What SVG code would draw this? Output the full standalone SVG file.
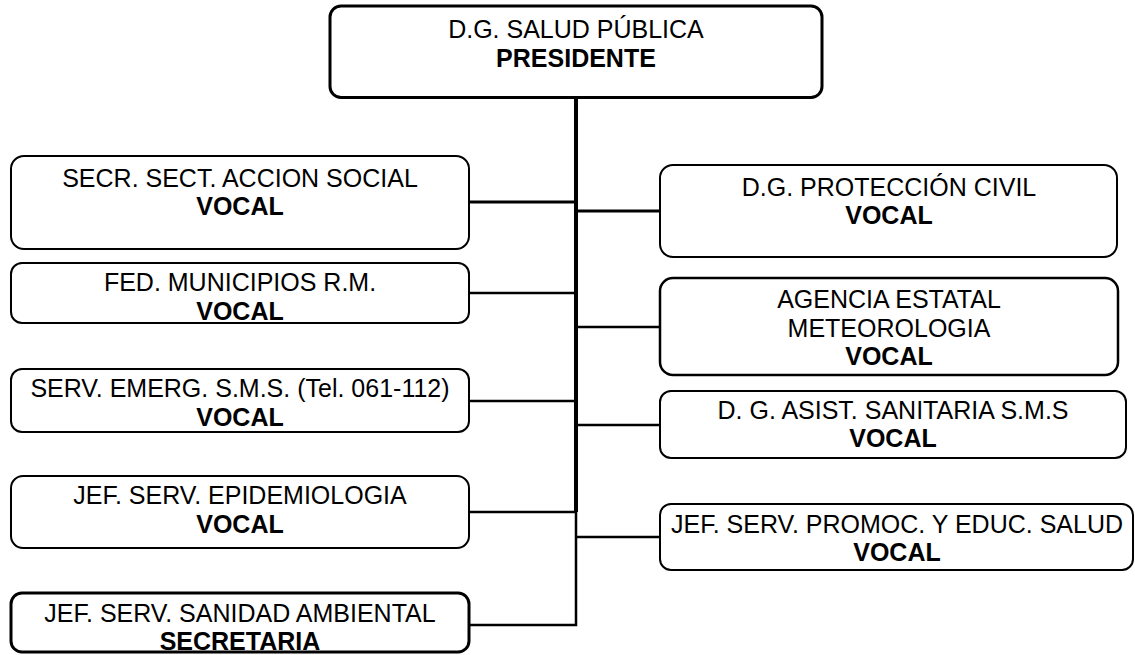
<svg xmlns="http://www.w3.org/2000/svg" width="1135" height="655" viewBox="0 0 1135 655">
<style>
.box{fill:#fff;stroke:#000;stroke-width:2}
.thick{stroke-width:3}
.mid{stroke-width:2.5}
text{font-family:"Liberation Sans",Arial,sans-serif;font-size:25px;fill:#000;text-anchor:middle}
.b{font-weight:bold}
.con{stroke:#000;fill:none}
</style>
<rect width="1135" height="655" fill="#fff"/>
<g id="connectors">
<line class="con" x1="576" y1="97" x2="576" y2="512" stroke-width="4"/>
<polyline class="con" points="576,512 576,625 469,625" stroke-width="2.5"/>
<line class="con" x1="469" y1="202" x2="576" y2="202" stroke-width="3"/>
<line class="con" x1="469" y1="293" x2="576" y2="293" stroke-width="2.5"/>
<line class="con" x1="469" y1="401" x2="576" y2="401" stroke-width="2.5"/>
<line class="con" x1="469" y1="512" x2="576" y2="512" stroke-width="2.5"/>
<line class="con" x1="576" y1="211" x2="660" y2="211" stroke-width="3"/>
<line class="con" x1="576" y1="327" x2="660" y2="327" stroke-width="2.5"/>
<line class="con" x1="576" y1="425" x2="660" y2="425" stroke-width="2.5"/>
<line class="con" x1="576" y1="537" x2="660" y2="537" stroke-width="2.5"/>
</g>
<g id="n-presidente">
<rect class="box thick" x="330" y="6" width="492" height="91.5" rx="11"/>
<text x="576" y="37.5">D.G. SALUD PÚBLICA</text>
<text class="b" x="576" y="66.5">PRESIDENTE</text>
</g>
<g id="n-secr">
<rect class="box" x="11" y="156" width="458" height="93" rx="13"/>
<text x="240" y="186.5">SECR. SECT. ACCION SOCIAL</text>
<text class="b" x="240" y="215">VOCAL</text>
</g>
<g id="n-fed">
<rect class="box" x="11" y="263" width="458" height="60" rx="11"/>
<text x="240" y="291">FED. MUNICIPIOS R.M.</text>
<text class="b" x="240" y="319.5">VOCAL</text>
</g>
<g id="n-serv">
<rect class="box" x="11" y="369" width="458" height="63" rx="11"/>
<text x="240" y="397">SERV. EMERG. S.M.S. (Tel. 061-112)</text>
<text class="b" x="240" y="425.5">VOCAL</text>
</g>
<g id="n-epi">
<rect class="box" x="11" y="476" width="458" height="72" rx="12"/>
<text x="240" y="504">JEF. SERV. EPIDEMIOLOGIA</text>
<text class="b" x="240" y="532.5">VOCAL</text>
</g>
<g id="n-sanidad">
<rect class="box thick" x="11" y="593" width="458" height="59" rx="11"/>
<text x="240" y="622">JEF. SERV. SANIDAD AMBIENTAL</text>
<text class="b" x="240" y="650">SECRETARIA</text>
</g>
<g id="n-proteccion">
<rect class="box" x="660" y="165" width="457" height="92" rx="13"/>
<text x="889" y="195.5">D.G. PROTECCIÓN CIVIL</text>
<text class="b" x="889" y="224">VOCAL</text>
</g>
<g id="n-agencia">
<rect class="box mid" x="660" y="278" width="458" height="97" rx="13"/>
<text x="889" y="308">AGENCIA ESTATAL</text>
<text x="889" y="336.5">METEOROLOGIA</text>
<text class="b" x="889" y="365">VOCAL</text>
</g>
<g id="n-asist">
<rect class="box" x="660" y="391" width="466" height="67" rx="11"/>
<text x="893" y="419">D. G. ASIST. SANITARIA S.M.S</text>
<text class="b" x="893" y="447">VOCAL</text>
</g>
<g id="n-promoc">
<rect class="box" x="660" y="504" width="473" height="66" rx="11"/>
<text x="897" y="533">JEF. SERV. PROMOC. Y EDUC. SALUD</text>
<text class="b" x="897" y="561">VOCAL</text>
</g>
</svg>
